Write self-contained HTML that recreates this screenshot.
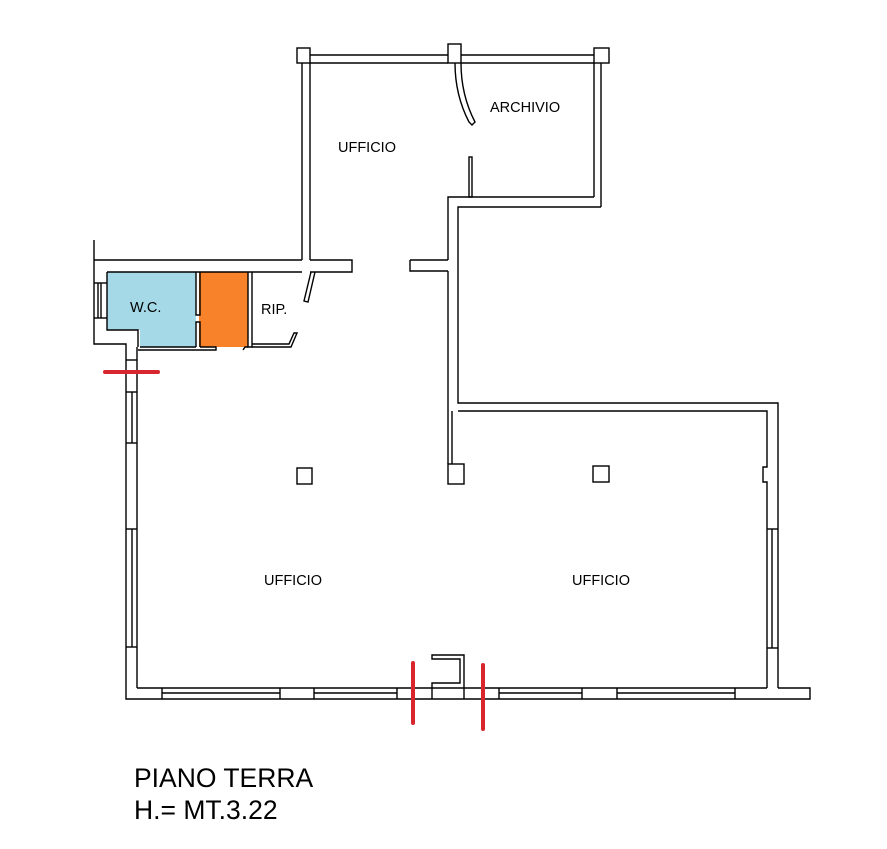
<!DOCTYPE html>
<html><head><meta charset="utf-8"><style>
html,body{margin:0;padding:0;background:#fff;}
svg{display:block}
text{font-family:"Liberation Sans",sans-serif;fill:#000}
</style></head><body>
<svg width="887" height="849" viewBox="0 0 887 849" xmlns="http://www.w3.org/2000/svg">
<path d="M107 272 H196 V347 H140 V330 H107 Z" fill="#a6d9e8"/>
<rect x="199" y="272" width="49" height="75" fill="#f7822a"/>
<g fill="none" stroke="#000" stroke-width="1.4">
<line x1="310" y1="55" x2="448" y2="55"/><line x1="310" y1="63" x2="448" y2="63"/>
<line x1="461" y1="55" x2="594" y2="55"/><line x1="461" y1="63" x2="594" y2="63"/>
<rect x="297" y="48" width="13" height="15"/>
<rect x="448" y="44" width="13" height="19"/>
<rect x="594" y="48" width="15" height="15"/>
<line x1="302" y1="63" x2="302" y2="260"/><line x1="310" y1="63" x2="310" y2="260"/>
<line x1="594" y1="63" x2="594" y2="197"/><line x1="601" y1="63" x2="601" y2="207"/>
<polyline points="601,207 458,207 458,403 778,403 778,688"/>
<polyline points="594,197 448,197 448,260"/>
<line x1="448" y1="271" x2="448" y2="464"/>
<line x1="452" y1="411" x2="452" y2="464"/>
<polyline points="458,411 767,411 767,467 763,467 763,482 767,482 767,688"/>
<rect x="448" y="464" width="16" height="20"/>
<rect x="469" y="157" width="3" height="40"/>
<path d="M455 63 Q455 95 469 122 L472 125 L475 122 Q461 95 461 63"/>
<polyline points="94,240 94,344 126,344 126,699 810,699 810,688 778,688"/>
<line x1="94" y1="260" x2="302" y2="260"/>
<polyline points="310,260 352,260 352,272 310,272"/>
<line x1="107" y1="272" x2="302" y2="272"/>
<polyline points="410,260 448,260"/><polyline points="448,271 410,271 410,260"/>
<polyline points="107,272 107,330 138,330 138,347"/>
<line x1="94" y1="283" x2="107" y2="283"/><line x1="94" y1="318" x2="107" y2="318"/>
<line x1="98" y1="283" x2="98" y2="318"/><line x1="101" y1="283" x2="101" y2="318"/>
<line x1="137" y1="347" x2="137" y2="688"/>
<line x1="137" y1="688" x2="767" y2="688"/>
<line x1="126" y1="392" x2="137" y2="392"/><line x1="126" y1="443" x2="137" y2="443"/>
<line x1="132" y1="392" x2="132" y2="443"/>
<line x1="126" y1="529" x2="137" y2="529"/><line x1="126" y1="647" x2="137" y2="647"/>
<line x1="132" y1="529" x2="132" y2="647"/>
<line x1="126" y1="360" x2="137" y2="360"/>
<polyline points="196,272 196,315 200,315 200,272"/>
<polyline points="196,347 196,322 200,322 200,347"/>
<polyline points="248,272 248,347 252,347 252,272"/>
<polyline points="138,350 216,350 216,347 200,347"/>
<line x1="140" y1="347" x2="196" y2="347"/>
<polyline points="243,350 245,347 248,347"/>
<polyline points="252,347 291,347 297,333 294,333 289,344 252,344"/>
<polyline points="315,272 308,302 304,301 311,272"/>
<line x1="767" y1="529" x2="778" y2="529"/><line x1="767" y1="648" x2="778" y2="648"/>
<line x1="772" y1="529" x2="772" y2="648"/>
<rect x="297" y="468" width="15" height="16"/>
<rect x="593" y="466" width="16" height="16"/>
<line x1="162" y1="688" x2="162" y2="699"/><line x1="280" y1="688" x2="280" y2="699"/><line x1="162" y1="693" x2="280" y2="693"/>
<line x1="314" y1="688" x2="314" y2="699"/><line x1="397" y1="688" x2="397" y2="699"/><line x1="314" y1="693" x2="397" y2="693"/>
<line x1="499" y1="688" x2="499" y2="699"/><line x1="582" y1="688" x2="582" y2="699"/><line x1="499" y1="693" x2="582" y2="693"/>
<line x1="617" y1="688" x2="617" y2="699"/><line x1="735" y1="688" x2="735" y2="699"/><line x1="617" y1="693" x2="735" y2="693"/>
<polyline points="432,699 432,683 460,683 460,659 432,659 432,655 464,655 464,699"/>
</g>
<g stroke="#d7262e" stroke-width="4" stroke-linecap="round">
<line x1="105" y1="372" x2="158" y2="372"/>
<line x1="413" y1="663" x2="413" y2="723"/>
<line x1="483" y1="665" x2="483" y2="729"/>
</g>
<g font-size="14.5">
<text x="338" y="152">UFFICIO</text>
<text x="490" y="112">ARCHIVIO</text>
<text x="130" y="312">W.C.</text>
<text x="261" y="314">RIP.</text>
<text x="264" y="585">UFFICIO</text>
<text x="572" y="585">UFFICIO</text>
</g>
<text x="134" y="787" font-size="26.5">PIANO TERRA</text>
<text x="134" y="819" font-size="26.5">H.= MT.3.22</text>
</svg>
</body></html>
